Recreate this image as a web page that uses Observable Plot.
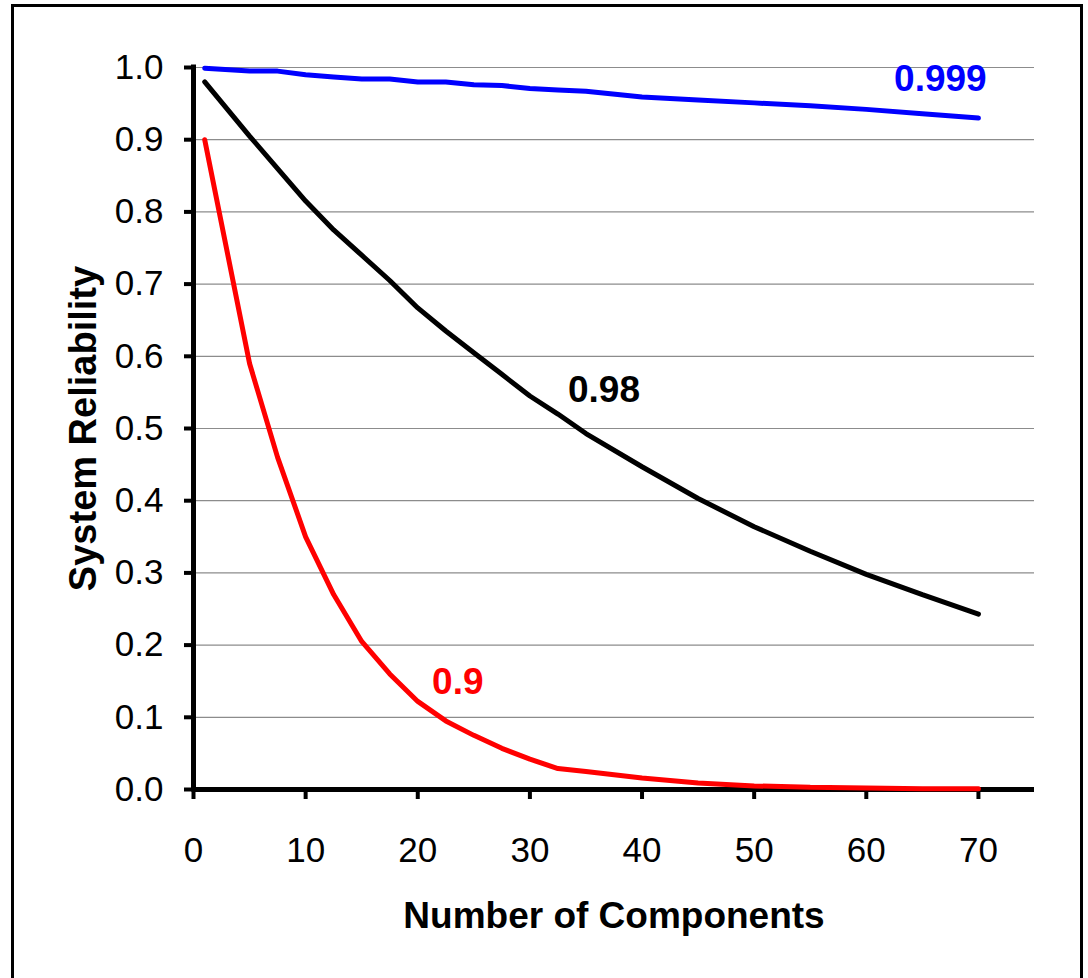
<!DOCTYPE html>
<html>
<head>
<meta charset="utf-8">
<script src="https://cdn.jsdelivr.net/npm/d3@7"></script>
<script src="https://cdn.jsdelivr.net/npm/@observablehq/plot@0.6"></script>
<style>
  html, body { margin: 0; padding: 0; background: #fff; overflow: hidden; }
  #wrap { position: relative; width: 1088px; height: 978px; }
  #frame { position: absolute; left: 11px; top: 4px; width: 1072px; height: 1000px; box-sizing: border-box; border: 3px solid #000; }
  #chart { position: absolute; left: 0; top: 0; }
</style>
</head>
<body>
<div id="wrap"><div id="frame"></div><div id="chart"></div></div>
<script>
// Number of components (x positions of the data points)
const components = [1, 5, 7.5, 10, 12.5, 15, 17.5, 20, 22.5, 25, 27.5, 30, 32.5, 35, 40, 45, 50, 55, 60, 65, 70];
// System reliability for each component reliability
const rel0999 = [0.999, 0.995, 0.995, 0.990, 0.987, 0.984, 0.984, 0.980, 0.980, 0.976, 0.975, 0.971, 0.969, 0.967, 0.959, 0.955, 0.951, 0.947, 0.942, 0.936, 0.930];
const rel098  = [0.980, 0.905, 0.860, 0.815, 0.775, 0.740, 0.705, 0.667, 0.635, 0.605, 0.575, 0.545, 0.520, 0.493, 0.447, 0.403, 0.364, 0.330, 0.298, 0.270, 0.243];
const rel09   = [0.900, 0.590, 0.460, 0.350, 0.270, 0.205, 0.160, 0.122, 0.095, 0.075, 0.057, 0.042, 0.029, 0.025, 0.016, 0.009, 0.005, 0.003, 0.002, 0.001, 0.001];

const seriesNames = ["0.999", "0.98", "0.9"];
const seriesColors = ["#0000ff", "#000000", "#ff0000"];
const seriesValues = [rel0999, rel098, rel09];
const labelAt = [65, 35, 22.5];   // component count the label sits near

const xTicks = [0, 10, 20, 30, 40, 50, 60, 70];
const yTicks = [0, 0.1, 0.2, 0.3, 0.4, 0.5, 0.6, 0.7, 0.8, 0.9, 1.0];
const xTitle = "Number of Components";
const yTitle = "System Reliability";

const table = [];
seriesNames.forEach((s, i) => components.forEach((n, j) => table.push({series: s, n, r: seriesValues[i][j]})));

const labelOffsets = [[18, -35], [18, -43], [12, -39]];
const labelMarks = seriesNames.map((s, i) =>
  Plot.text(table.filter(d => d.series === s && d.n === labelAt[i]), {
    x: "n", y: "r", text: d => d.series,
    dx: labelOffsets[i][0], dy: labelOffsets[i][1],
    fill: seriesColors[i], fontWeight: "bold", fontSize: 37, textAnchor: "middle", lineAnchor: "middle"
  })
);

const chart = Plot.plot({
  width: 1088,
  height: 978,
  marginLeft: 193,
  marginRight: 54,
  marginTop: 67,
  marginBottom: 189,
  x: {domain: [0, 75]},
  y: {domain: [0, 1]},
  color: {domain: seriesNames, range: seriesColors},
  style: {fontFamily: "'Liberation Sans', Arial, sans-serif", fontSize: "35px", color: "#000", background: "transparent", overflow: "visible"},
  marks: [
    Plot.ruleY(yTicks.filter(d => d > 0), {stroke: "#8c8c8c", strokeWidth: 1.2}),
    Plot.axisY(yTicks, {tickFormat: d3.format(".1f"), tickSize: 9, tickPadding: 21, strokeWidth: 4, fontSize: 35, label: null}),
    Plot.axisX(xTicks, {tickSize: 10, tickPadding: 38, strokeWidth: 4, fontSize: 35, label: null}),
    Plot.ruleX([0], {stroke: "#000", strokeWidth: 5, strokeLinecap: "square"}),
    Plot.ruleY([0], {stroke: "#000", strokeWidth: 5}),
    Plot.line(table, {x: "n", y: "r", z: "series", stroke: "series", strokeWidth: 5, strokeLinejoin: "miter"}),
    ...labelMarks,
    Plot.text([xTitle], {frameAnchor: "bottom", dy: 138, textAnchor: "middle", lineAnchor: "bottom", fontWeight: "bold", fontSize: 37}),
    Plot.text([yTitle], {frameAnchor: "left", rotate: -90, dx: -98, textAnchor: "middle", lineAnchor: "bottom", fontWeight: "bold", fontSize: 38})
  ]
});
document.getElementById("chart").appendChild(chart);
</script>
</body>
</html>
